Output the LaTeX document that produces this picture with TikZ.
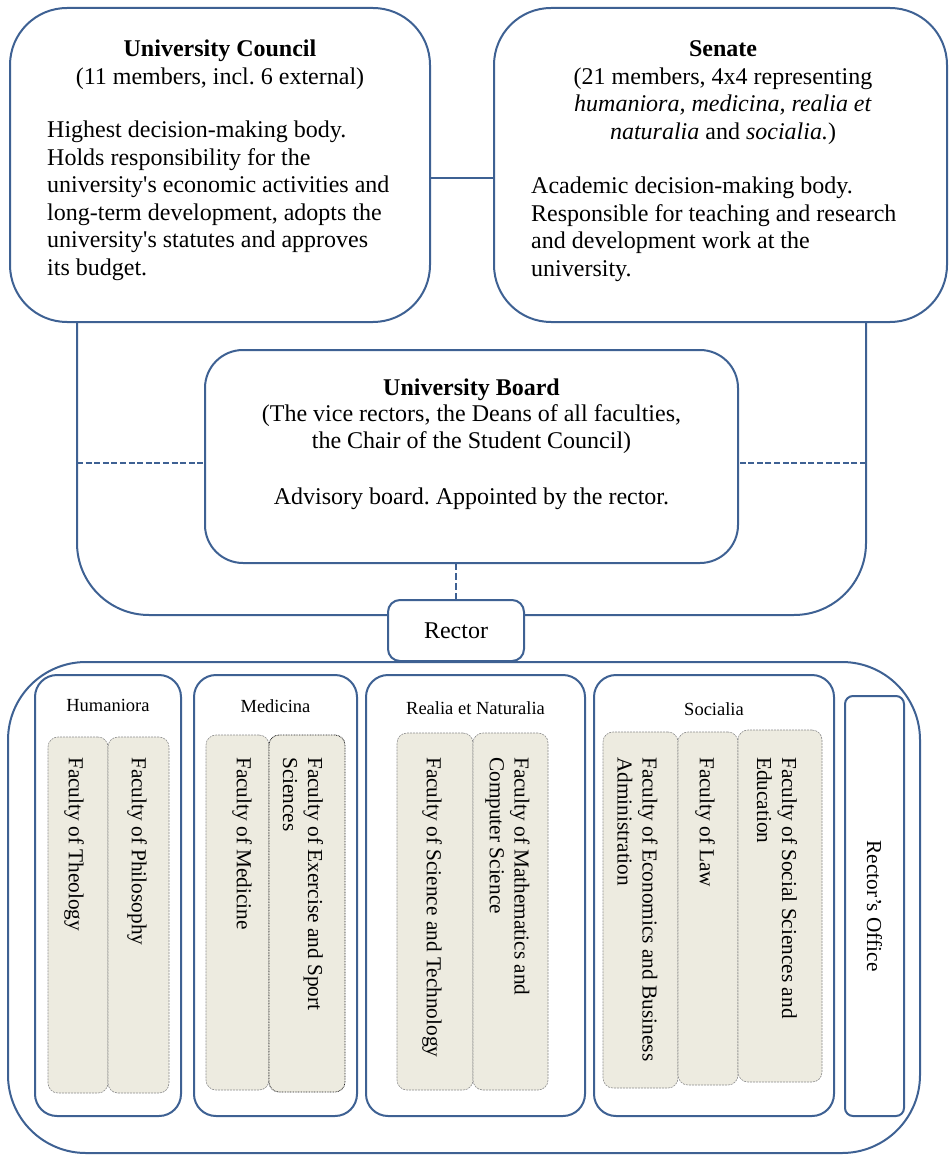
\documentclass[tikz,border=0pt]{standalone}
\usepackage{fontspec}
\setmainfont{Liberation Serif}
\definecolor{orgblue}{RGB}{62,97,147}
\definecolor{facfill}{RGB}{237,235,224}
\definecolor{facline}{RGB}{140,140,140}
\newcommand{\apos}{\textquotesingle}
\begin{document}
\frenchspacing
\begin{tikzpicture}[x=1pt,y=-1pt,
  frame/.style={draw=orgblue, line width=2pt, fill=white, rounded corners=#1,
    inner sep=0pt, outer sep=0pt},
  frame/.default=20pt,
  link/.style={draw=orgblue, line width=2pt},
  dashlink/.style={draw=orgblue, line width=2pt, dash pattern=on 6pt off 2.6pt},
  bigtext/.style={font=\fontsize{24pt}{27.5pt}\selectfont, inner sep=0pt},
  boardtext/.style={font=\fontsize{24pt}{26.7pt}\selectfont, inner sep=0pt},
  grouplabel/.style={font=\fontsize{18.5pt}{22pt}\selectfont, inner sep=0pt, anchor=base},
  facbox/.style={draw=facline, line width=0.6pt, dash pattern=on 2pt off 1pt,
    fill=facfill, rounded corners=10pt, inner sep=0pt, outer sep=0pt},
  facdotted/.style={facbox, draw=black!85, line width=0.8pt, dash pattern=on 0.8pt off 0.8pt},
  factext/.style={font=\fontsize{21.3pt}{24.8pt}\selectfont, inner sep=0pt,
    rotate=-90, anchor=west, align=left},
]
\useasboundingbox (0,0) rectangle (948,1155);

% ---------- governing bodies ----------
\node[frame=57pt, minimum width=420pt, minimum height=314pt] (uc) at (220,165) {};
\node[frame=57pt, minimum width=453pt, minimum height=314pt] (senate) at (720.5,165) {};

\node[bigtext, anchor=base] (uc-head) at (220,57)
  {\begin{tabular}[t]{@{}c@{}}\textbf{University Council}\\(11 members, incl. 6 external)\end{tabular}};
\node[bigtext, anchor=base west] (uc-body) at (47,138)
  {\begin{tabular}[t]{@{}l@{}}Highest decision-making body.\\
   Holds responsibility for the\\
   university\apos s economic activities and\\
   long-term development, adopts the\\
   university\apos s statutes and approves\\
   its budget.\end{tabular}};

\node[bigtext, anchor=base] (senate-head) at (723,57)
  {\begin{tabular}[t]{@{}c@{}}\textbf{Senate}\\(21 members, 4x4 representing\\
   \textit{humaniora, medicina, realia et}\\
   \textit{naturalia} and \textit{socialia.})\end{tabular}};
\node[bigtext, anchor=base west] (senate-body) at (531,194)
  {\begin{tabular}[t]{@{}l@{}}Academic decision-making body.\\
   Responsible for teaching and research\\
   and development work at the\\
   university.\end{tabular}};

% council -- senate link
\coordinate (ucs) at (430,178);
\draw[link] (ucs) -- (ucs -| senate.west);

% frame around the board, closing on the rector
\coordinate (uL) at (77,322);
\coordinate (uR) at (866,322);
\draw[link, rounded corners=72pt] (uL) -- (77,615) -- (388,615);
\draw[link, rounded corners=72pt] (uR) -- (866,615) -- (524,615);

% ---------- university board ----------
\node[frame=38pt, minimum width=533pt, minimum height=213pt] (board) at (471.5,456.5) {};
\node[boardtext, anchor=base] (board-head) at (471.5,395)
  {\begin{tabular}[t]{@{}c@{}}\textbf{University Board}\\
   (The vice rectors, the Deans of all faculties,\\
   the Chair of the Student Council)\end{tabular}};
\node[boardtext, anchor=base] (board-body) at (471.5,504.5)
  {Advisory board. Appointed by the rector.};

\coordinate (dl) at (77,463);
\coordinate (dr) at (866,463);
\draw[dashlink] (dl) -- (dl -| board.west);
\draw[dashlink] (dr) -- (dr -| board.east);

% ---------- faculties ----------
\node[frame=78pt, minimum width=912pt, minimum height=491pt, fill=none] (faculties) at (464,907.5) {};

\node[frame=12pt, minimum width=136pt, minimum height=61pt, bigtext] (rector) at (456,630.5) {Rector};
\draw[dashlink, dash pattern=on 7pt off 3pt] (rector.north |- board.south) -- (rector.north);

% groups
\node[frame=22pt, minimum width=146pt, minimum height=441pt] (hum) at (108,895.5) {};
\node[frame=22pt, minimum width=163pt, minimum height=441pt] (med) at (275.5,895.5) {};
\node[frame=22pt, minimum width=219pt, minimum height=441pt] (rea) at (475.5,895.5) {};
\node[frame=22pt, minimum width=240pt, minimum height=441pt] (soc) at (714,895.5) {};
\node[frame=8pt, minimum width=59pt, minimum height=420pt] (roffice) at (874.5,906) {};

\node[grouplabel] (hum-label) at (108,711) {Humaniora};
\node[grouplabel] (med-label) at (275.5,712) {Medicina};
\node[grouplabel] (rea-label) at (475.5,714) {Realia et Naturalia};
\node[grouplabel] (soc-label) at (714,715) {Socialia};

% faculty columns
\node[facbox, minimum width=60pt, minimum height=356pt] (theo) at (78,915) {};
\node[facbox, minimum width=61pt, minimum height=356pt] (phil) at (138.5,915) {};
\node[facbox, minimum width=63pt, minimum height=355pt] (medi) at (237.5,912.5) {};
\node[facdotted, minimum width=76pt, minimum height=357pt] (exer) at (307,913.5) {};
\node[facbox, minimum width=76pt, minimum height=357pt] (scte) at (435,911.5) {};
\node[facbox, minimum width=75pt, minimum height=357pt] (mathcs) at (510.5,911.5) {};
\node[facbox, minimum width=75pt, minimum height=356pt] (econ) at (640.5,910) {};
\node[facbox, minimum width=60pt, minimum height=353pt] (law) at (708,908.5) {};
\node[facbox, minimum width=84pt, minimum height=352pt] (socsci) at (780,906) {};

\node[factext] (theo-t) at (74,757) {Faculty of Theology};
\node[factext] (phil-t) at (137,757) {Faculty of Philosophy};
\node[factext] (medi-t) at (242,757) {Faculty of Medicine};
\node[factext] (exer-t) at (303,757) {Faculty of Exercise and Sport\\Sciences};
\node[factext] (scte-t) at (432,757) {Faculty of Science and Technology};
\node[factext] (mathcs-t) at (507.5,757) {Faculty of Mathematics and\\Computer Science};
\node[factext] (econ-t) at (637.5,757) {Faculty of Economics and Business\\Administration};
\node[factext] (law-t) at (705,757) {Faculty of Law};
\node[factext] (socsci-t) at (777,757) {Faculty of Social Sciences and\\Education};

\node[font=\fontsize{21.3pt}{24.8pt}\selectfont, inner sep=0pt, rotate=-90] (roffice-t)
  at (roffice.center) {Rector’s Office};
\end{tikzpicture}
\end{document}
